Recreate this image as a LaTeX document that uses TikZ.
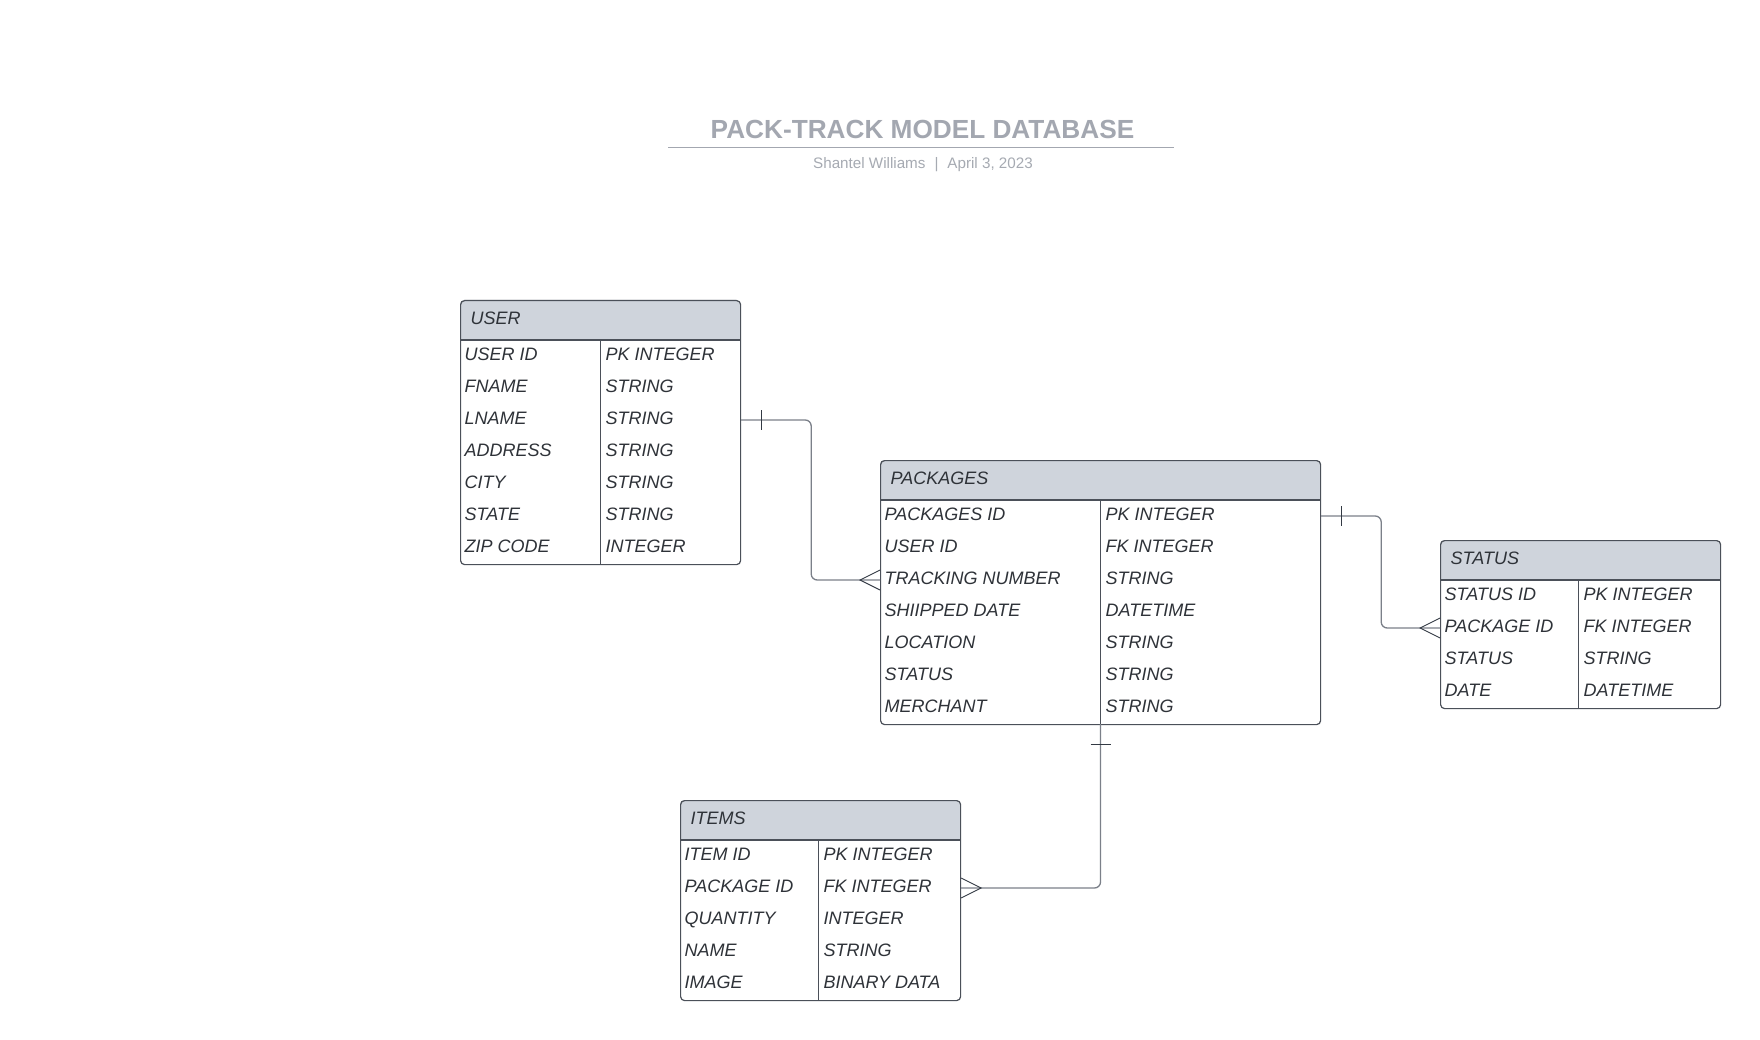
\documentclass[tikz,border=0pt]{standalone}
\usepackage{fontspec}
\setmainfont{Liberation Sans}
\usetikzlibrary{calc}
\definecolor{hdrfill}{HTML}{CFD4DC}
\definecolor{tblborder}{HTML}{4B5059}
\definecolor{txtcol}{HTML}{2E3238}
\definecolor{conncol}{HTML}{7B8089}
\definecolor{markcol}{HTML}{333A44}
\definecolor{titlecol}{HTML}{A3A7B0}
\definecolor{subcol}{HTML}{A6AAB2}
\tikzset{
  tbl/.style={draw=tblborder, line width=1.2pt, rounded corners=4pt, inner sep=0pt, fill=none},
  tblline/.style={draw=tblborder, line width=1.2pt},
  cell/.style={inner sep=0pt, anchor=base west, text=txtcol, font=\itshape\fontsize{18}{21}\selectfont},
  hdrtext/.style={inner sep=0pt, anchor=base west, text=txtcol, font=\itshape\fontsize{18}{21}\selectfont},
  conn/.style={draw=conncol, line width=1.3pt, rounded corners=6pt},
  ermark/.style={draw=markcol, line width=0.9pt},
}
% #1 name, #2 left x, #3 top y, #4 width, #5 left col width, #6 title, #7 rows, #8 row count
\newcommand{\ertable}[8]{%
  \begin{scope}
    \clip (#2-5,#3-5) rectangle (#2+#4+5,#3+40);
    \fill[hdrfill, rounded corners=4pt] (#2,#3) rectangle (#2+#4,#3+40+32*#8);
  \end{scope}
  \node[tbl, minimum width=#4pt, minimum height={(40+32*#8)*1pt}, anchor=north west] (#1) at (#2,#3) {};
  \node[hdrtext] (#1-h) at (#2+10.5,#3+24) {#6};
  \draw[tblline] (#2,#3+40) -- (#2+#4,#3+40);
  \draw[tblline] (#2+#5,#3+40) -- (#2+#5,#3+40+32*#8);
  \foreach \a/\b [count=\i] in {#7} {
    \node[cell] (#1-a\i) at (#2+4.5,#3+40+32*\i-12) {\a};
    \node[cell] (#1-b\i) at (#2+#5+5,#3+40+32*\i-12) {\b};
  }
}
\begin{document}
\begin{tikzpicture}[x=1pt,y=-1pt]
\useasboundingbox (0,0) rectangle (1760,1040);
\fill[white] (0,0) rectangle (1760,1040);

% title
\node[inner sep=0pt, text=titlecol, font=\bfseries\fontsize{26.2}{30}\selectfont] (title) at (922.5,129) {PACK-TRACK MODEL DATABASE};
\draw[draw=titlecol, line width=1.6pt] (668,147.5) -- (1174,147.5);
\node[inner sep=0pt, anchor=base, text=subcol, font=\fontsize{15.2}{18}\selectfont] (subtitle) at (923,168.5) {Shantel Williams\hspace{9pt}|\hspace{9pt}April 3, 2023};

% tables
\ertable{user}{460}{300}{280}{140.5}{USER}{USER ID/PK INTEGER, FNAME/STRING, LNAME/STRING, ADDRESS/STRING, CITY/STRING, STATE/STRING, ZIP CODE/INTEGER}{7}
\ertable{pkg}{880}{460}{440}{220.5}{PACKAGES}{PACKAGES ID/PK INTEGER, USER ID/FK INTEGER, TRACKING NUMBER/STRING, SHIIPPED DATE/DATETIME, LOCATION/STRING, STATUS/STRING, MERCHANT/STRING}{7}
\ertable{status}{1440}{540}{280}{138.5}{STATUS}{STATUS ID/PK INTEGER, PACKAGE ID/FK INTEGER, STATUS/STRING, DATE/DATETIME}{4}
\ertable{items}{680}{800}{280}{138.5}{ITEMS}{ITEM ID/PK INTEGER, PACKAGE ID/FK INTEGER, QUANTITY/INTEGER, NAME/STRING, IMAGE/BINARY DATA}{5}

% connector end points (row centres on table edges)
\coordinate (c1s) at (user.east |- 0,420);
\coordinate (c1e) at (pkg.west |- 0,580);
\coordinate (c2s) at (pkg.east |- 0,516);
\coordinate (c2e) at (status.west |- 0,628);
\coordinate (c3s) at (1100.5,724);
\coordinate (c3e) at (items.east |- 0,888);

\draw[conn] (c1s) -- ++(70,0) |- (c1e);
\draw[ermark] ($(c1s)+(20,-10)$) -- ++(0,20);
\draw[ermark] ($(c1e)+(0,-10)$) -- ++(-20,10) -- ++(20,10);

\draw[conn] (c2s) -- ++(60,0) |- (c2e);
\draw[ermark] ($(c2s)+(20,-10)$) -- ++(0,20);
\draw[ermark] ($(c2e)+(0,-10)$) -- ++(-20,10) -- ++(20,10);

\draw[conn] (c3s) |- (c3e);
\draw[ermark] ($(c3s)+(-10,20)$) -- ++(20,0);
\draw[ermark] ($(c3e)+(0,-10)$) -- ++(20,10) -- ++(-20,10);
\end{tikzpicture}
\end{document}
